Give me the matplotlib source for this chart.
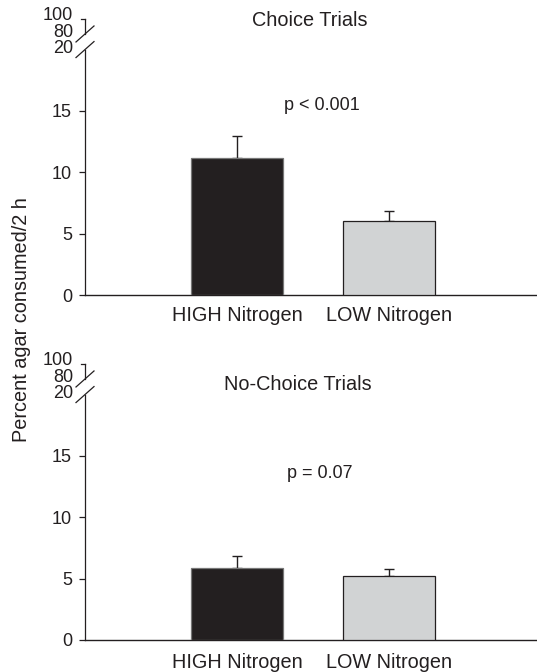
import matplotlib
matplotlib.use("Agg")
import matplotlib.pyplot as plt
from matplotlib.transforms import blended_transform_factory

plt.rcParams['font.family'] = ['Liberation Sans', 'DejaVu Sans']

# ---- data ----
categories = ["HIGH Nitrogen", "LOW Nitrogen"]
choice_means = [11.15, 6.03]
choice_sem = [1.82, 0.83]
nochoice_means = [5.9, 5.2]
nochoice_sem = [0.95, 0.62]
panel_titles = ["Choice Trials", "No-Choice Trials"]
p_texts = ["p < 0.001", "p = 0.07"]
yticks = [0, 5, 10, 15]
break_labels = ["20", "80", "100"]
ylabel = "Percent agar consumed/2 h"

TXT = "#231f20"
bar_colors = ["#231f20", "#d1d3d4"]
edge_colors = ["#777777", "#231f20"]

W, H = 537, 672
fig = plt.figure(figsize=(W / 100, H / 100), dpi=100)

YTOP = 22.49
# label positions (data units) for break labels
break_pos = [20.1, 21.43, 22.74]

panels = [
    dict(bottom=(672 - 295) / 672, means=choice_means, sem=choice_sem,
         title=panel_titles[0], title_xy=(0.48, 22.33), p=p_texts[0], p_xy=(0.559, 15.48),
         lab_pad=8.0),
    dict(bottom=(672 - 640) / 672, means=nochoice_means, sem=nochoice_sem,
         title=panel_titles[1], title_xy=(0.40, 20.86), p=p_texts[1], p_xy=(0.546, 13.6),
         lab_pad=9.5),
]

left = 85 / W
width = (536 - 85) / W
height = 276 / H
x = [0, 1]

for pnl in panels:
    ax = fig.add_axes([left, pnl['bottom'], width, height])
    ax.set_xlim(-1.0, 1.967)
    ax.set_ylim(0, YTOP)
    for s in ['top', 'right', 'left']:
        ax.spines[s].set_visible(False)
    ax.spines['bottom'].set_linewidth(1.0)
    ax.spines['bottom'].set_color(TXT)

    ax.bar(x, pnl['means'], width=0.605, color=bar_colors, edgecolor=edge_colors,
           linewidth=0.9, zorder=3)
    ax.errorbar(x, pnl['means'], yerr=[[0, 0], pnl['sem']], fmt='none',
                ecolor=TXT, elinewidth=1.0, capsize=3.6, capthick=1.0, zorder=2)

    ax.set_xticks(x)
    ax.set_xticklabels(categories, fontsize=14.3, color=TXT)
    ax.tick_params(axis='x', length=0, pad=pnl['lab_pad'])

    ax.set_yticks(yticks)
    ax.set_yticklabels([str(t) for t in yticks], fontsize=13, color=TXT)
    ax.tick_params(axis='y', length=4.3, width=0.9, color=TXT, pad=5)

    # manual left axis with break
    tr = blended_transform_factory(ax.transAxes, ax.transData)
    lw = 0.9
    ax.plot([0, 0], [0, 20.0], transform=tr, color=TXT, lw=lw, clip_on=False)
    ax.plot([0, 0], [21.27, YTOP], transform=tr, color=TXT, lw=lw, clip_on=False)
    ax.plot([-0.009, 0], [YTOP, YTOP], transform=tr, color=TXT, lw=lw, clip_on=False)
    dx = 9 / 451
    dy = 8 / 12.27
    for yc in [20.0, 21.27]:
        ax.plot([-dx, dx], [yc - dy, yc + dy], transform=tr, color=TXT, lw=lw,
                clip_on=False)
    for lab, yp in zip(break_labels, break_pos):
        ax.text(-12 / 451 - 0.0, yp, lab, transform=tr, ha='right', va='center',
                fontsize=13, color=TXT, clip_on=False)

    ax.text(pnl['title_xy'][0], pnl['title_xy'][1], pnl['title'], ha='center',
            va='center', fontsize=14.3, color=TXT)
    ax.text(pnl['p_xy'][0], pnl['p_xy'][1], pnl['p'], ha='center', va='center',
            fontsize=13, color=TXT)

fig.text(22 / W, 1 - 320 / H, ylabel, rotation=90, ha='center', va='center',
         fontsize=14.3, color=TXT)

fig.savefig("out.png", dpi=100)
